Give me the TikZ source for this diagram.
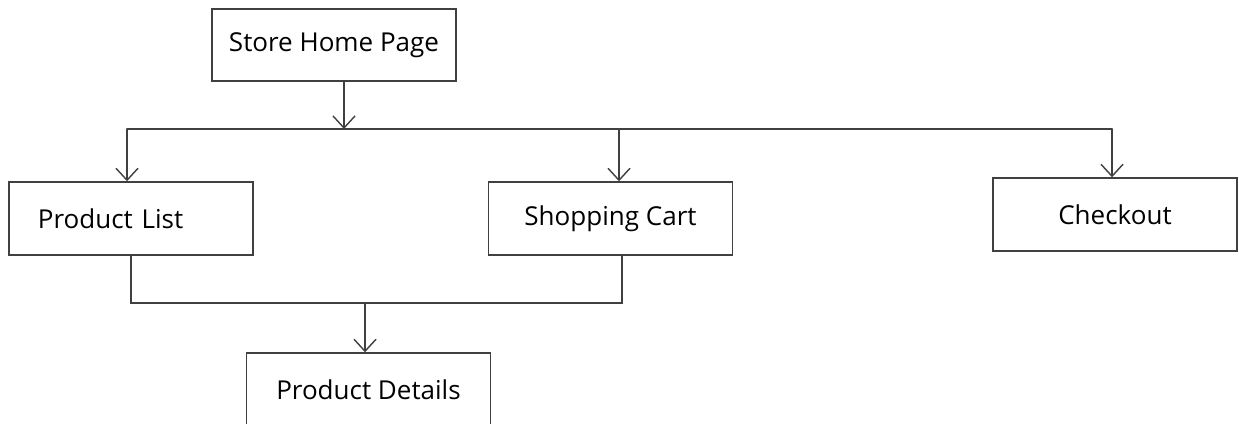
\documentclass[tikz,border=0pt]{standalone}
\usepackage{fontspec}
\setmainfont{Open Sans}
\usetikzlibrary{arrows.meta}

\begin{document}
\begin{tikzpicture}
	[x=0.025cm,y=-0.025cm,line cap=round,
	%Styles
	>={Straight Barb[length=3mm,width=5.5mm]},
	link/.style={draw=black!75,line width=1pt},
	page box/.style={draw=black!75,line width=1pt,inner sep=0pt,
		minimum width=6.1cm,minimum height=1.825cm,
		font=\fontsize{18.5}{22}\selectfont}
	]
	
	%Frame
	\clip (0,0) rectangle (1239,423);
	\fill[white] (0,0) rectangle (1239,423);
	
	%Pages
	\node[page box,minimum height=1.8cm] (home) at (334,45) {Store Home Page};
	\node[page box,text width=4.65cm,inner xsep=0.7cm,align=left] (plist) at (131,218.5) {Product List};
	\node[page box] (cart) at (610.5,218.5) {Shopping Cart};
	\node[page box] (check) at (1115,214.5) {Checkout};
	\node[page box,minimum height=1.85cm] (pdet) at (368.5,390) {Product Details};
	
	%Bus points
	\coordinate (bus1) at (127,129);
	\coordinate (split) at (344,129);
	\coordinate (bus2) at (619,129);
	\coordinate (bus3) at (1112,129);
	\coordinate (join) at (365,303);
	
	%Connectors
	\draw[link,->] (home.south -| split) -- (split);
	\draw[link] (bus1) -- (bus3);
	\draw[link,->] (bus1) -- (bus1 |- plist.north);
	\draw[link,->] (bus2) -- (bus2 |- cart.north);
	\draw[link,->] (bus3) -- (bus3 |- check.north);
	\draw[link] (plist.south) |- (join) -| ([xshift=0.29cm]cart.south);
	\draw[link,->] (join) -- (join |- pdet.north);
\end{tikzpicture}
\end{document}
